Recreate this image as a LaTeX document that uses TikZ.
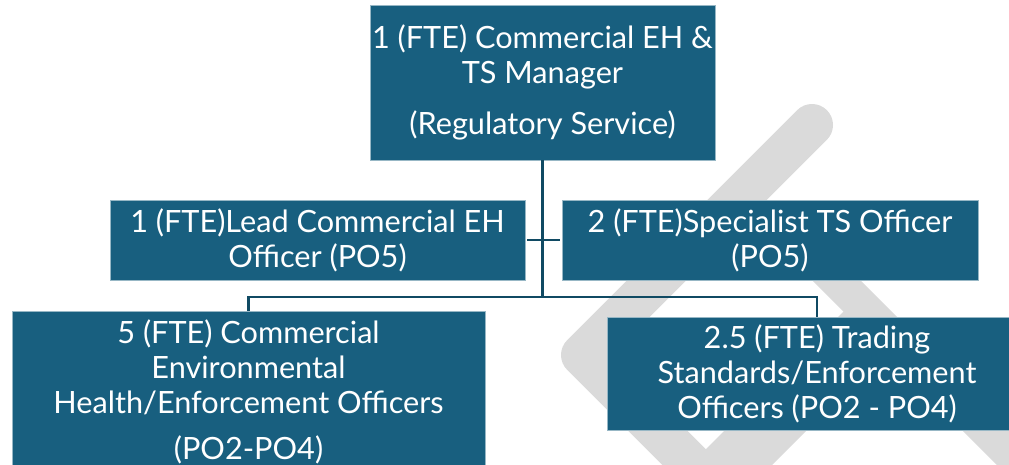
\documentclass[tikz,border=0pt]{standalone}
\usepackage{fontspec}
\setmainfont{Lato}
\usetikzlibrary{positioning}

\definecolor{boxblue}{RGB}{24,95,127}
\definecolor{linkblue}{RGB}{16,74,99}
\definecolor{markgray}{RGB}{218,218,218}

\tikzset{
	post/.style={rectangle, fill=boxblue, draw=boxblue!45!white, line width=0.6pt,
		text=white, align=center, inner sep=0pt,
		font=\fontsize{23}{26.25}\selectfont},
	link/.style={draw=linkblue, line width=2.2pt},
	band/.style={draw=markgray, line cap=round, line join=round}
}

\begin{document}
\begin{tikzpicture}[x=0.75pt, y=-0.75pt]
	\useasboundingbox (0,0) rectangle (1009,464);
	\clip (0,0) rectangle (1009,464);
	
	% watermark
	\draw[band, line width=31.5pt] (812,125) -- (582,355) -- (760,533);
	\draw[band, line width=25.5pt, line cap=butt] (790,234) -- (1070,514);
	\draw[band, line width=43.5pt, line cap=butt] (880,316) -- (680,516);
	
	\node[post, minimum width=258.75pt, minimum height=116.25pt] (mgr) at (542.5,82.5)
		{1 (FTE) Commercial EH \&\\ TS Manager\\[12pt] (Regulatory Service)};
	\node[post, minimum width=311.25pt, minimum height=60pt] (lead) at (317.5,240)
		{1 (FTE)Lead Commercial EH\\ Officer (PO5)};
	\node[post, minimum width=312pt, minimum height=60pt] (spec) at (770,240)
		{2 (FTE)Specialist TS Officer\\ (PO5)};
	\node[post, minimum width=354.75pt, minimum height=121.5pt] (ceho) at (248.5,392)
		{5 (FTE) Commercial\\ Environmental\\ Health/Enforcement Officers\\[8pt] (PO2-PO4)};
	\node[post, minimum width=315pt, minimum height=84.75pt] (tso) at (817,373.5)
		{2.5 (FTE) Trading\\ Standards/Enforcement\\ Officers (PO2 - PO4)};
	
	\coordinate (trunk) at (542.5,297);
	
	\draw[link] (mgr.south) -- (trunk);
	\draw[link, shorten <=1.5pt, shorten >=1.5pt] (lead.east) -- (spec.west);
	\draw[link] (ceho.north) |- (trunk) -| (tso.north);
\end{tikzpicture}
\end{document}
